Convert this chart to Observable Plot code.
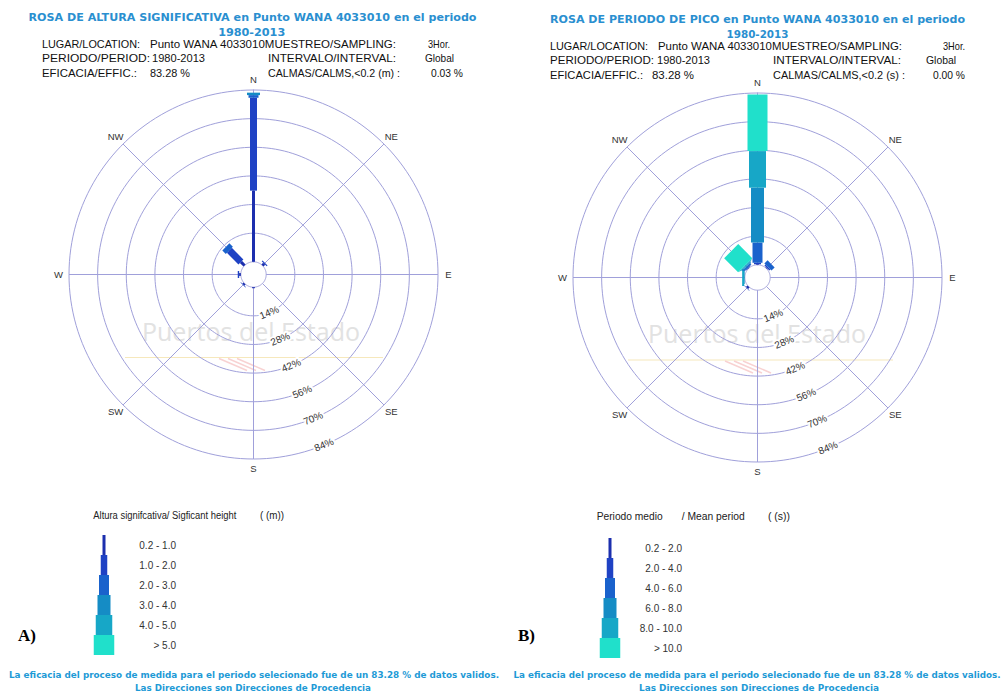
<!DOCTYPE html>
<html><head><meta charset="utf-8">
<script src="https://cdn.jsdelivr.net/npm/d3@7"></script>
<script src="https://cdn.jsdelivr.net/npm/@observablehq/plot@0.6"></script>
<style>
html,body{margin:0;padding:0;background:#fff;}
#page{position:relative;width:1003px;height:693px;overflow:hidden;background:#fff;}
</style></head><body><div id="page"></div>
<script>
// ---------- DATA ----------
const directions = ["N","NE","E","SE","S","SW","W","NW"];
const directionAngles = [0,45,90,135,180,225,270,315];
const ringTicks = [14,28,42,56,70,84];

const heightBands = ["0.2 - 1.0","1.0 - 2.0","2.0 - 3.0","3.0 - 4.0","4.0 - 5.0","> 5.0"];
const periodBands = ["0.2 - 2.0","2.0 - 4.0","4.0 - 6.0","6.0 - 8.0","8.0 - 10.0","> 10.0"];

// % of records per direction (N, NE, E, SE, S, SW, W, NW) for each class
const height_02_10 = [34.8, 1.2, 0, 0, 0.5, 0.8, 0.8, 2.5];
const height_10_20 = [45.4, 0.6, 0, 0, 0, 0.3, 0.7, 8.0];
const height_20_30 = [1.3, 0, 0, 0, 0, 0, 0, 2.4];
const height_30_40 = [1.2, 0, 0, 0, 0, 0, 0, 0];
const height_40_50 = [0, 0, 0, 0, 0, 0, 0, 0];
const height_gt50  = [0, 0, 0, 0, 0, 0, 0, 0];

const period_02_20  = [0.3, 0.3, 0, 0, 0, 1.0, 0, 0.2];
const period_20_40  = [0.7, 0.7, 0, 0, 0, 0.3, 0, 0.3];
const period_40_60  = [9.9, 2.2, 0, 0, 0, 0, 0, 0.8];
const period_60_80  = [26.8, 0, 0, 0, 0, 0, 0.3, 0.6];
const period_80_100 = [17.9, 0, 0, 0, 0, 0, 1.0, 0.4];
const period_gt100  = [27.7, 0, 0, 0, 0, 0, 0, 9.7];

const heightSeries = [height_02_10, height_10_20, height_20_30, height_30_40, height_40_50, height_gt50];
const periodSeries = [period_02_20, period_20_40, period_40_60, period_60_80, period_80_100, period_gt100];

// ---------- STYLE ----------
const bandColors = ["#1c2fae","#1f42c4","#1a62cc","#158cc5","#17a7c7","#20e0cb"];
const roseBarPx = [3, 7, 10, 13, 17, 20];
const legendBarPx = [3, 6.5, 10, 13, 16.5, 20.5];
const gridColor = "#a0a0da";
const R0 = 6.2;                // calm circle radius (in % units)
const rad = a => a * Math.PI / 180;

const page = document.getElementById("page");
function place(node, left, top, z) {
  node.style.position = "absolute";
  node.style.left = left + "px";
  node.style.top = top + "px";
  node.style.zIndex = z;
  page.appendChild(node);
}

function rose(series, bands) {
  const segs = [];
  directions.forEach((dir, i) => {
    let cum = 0;
    series.forEach((vals, j) => {
      const v = vals[i];
      if (v > 0) {
        segs.push({dir, a: directionAngles[i], band: bands[j], j, r1: R0 + cum, r2: R0 + cum + v});
        cum += v;
      }
    });
  });
  const rMax = R0 + ringTicks[ringTicks.length - 1];
  const labelR = 95.3;
  const ringAngle = 157.5;
  const dirs = directions.map((d, i) => ({d, a: directionAngles[i]}));
  // grid circles (calm circle + percentage rings), traced around the full turn
  const ringPts = [];
  [0, ...ringTicks].forEach(v => {
    for (let a = 0; a <= 360; a += 2) ringPts.push({ring: v, x: (R0 + v) * Math.sin(rad(a)), y: (R0 + v) * Math.cos(rad(a))});
  });
  return Plot.plot({
    width: 450, height: 450, margin: 0,
    x: {domain: [-110, 110], axis: null},
    y: {domain: [-110, 110], axis: null},
    color: {domain: bands, range: bandColors},
    style: {background: "transparent", overflow: "visible"},
    marks: [
      Plot.line(ringPts, {x: "x", y: "y", z: "ring", stroke: gridColor, strokeWidth: 1, curve: "linear"}),
      Plot.link(directionAngles, {
        x1: a => R0 * Math.sin(rad(a)), y1: a => R0 * Math.cos(rad(a)),
        x2: a => rMax * Math.sin(rad(a)), y2: a => rMax * Math.cos(rad(a)),
        stroke: gridColor, strokeWidth: 1
      }),
      Plot.link(segs, {
        x1: d => d.r1 * Math.sin(rad(d.a)), y1: d => d.r1 * Math.cos(rad(d.a)),
        x2: d => d.r2 * Math.sin(rad(d.a)), y2: d => d.r2 * Math.cos(rad(d.a)),
        stroke: "band", strokeWidth: d => roseBarPx[d.j], strokeLinecap: "butt"
      }),
      Plot.text(ringTicks, {
        x: d => (R0 + d) * Math.sin(rad(ringAngle)), y: d => (R0 + d) * Math.cos(rad(ringAngle)),
        text: d => d + "%", rotate: -22.5, fill: "#333", stroke: "white", strokeWidth: 4,
        paintOrder: "stroke", fontSize: 10, fontFamily: "Liberation Sans"
      }),
      Plot.text(dirs, {
        x: o => labelR * Math.sin(rad(o.a)), y: o => labelR * Math.cos(rad(o.a)),
        text: "d", fill: "#333", fontSize: 9.5, fontFamily: "Liberation Sans"
      })
    ]
  });
}

function legend(bands) {
  const rows = bands.map((b, j) => ({b, w: legendBarPx[j]}));
  return Plot.plot({
    width: 130, height: 124, margin: 0,
    x: {domain: [0, 130], axis: null},
    y: {domain: bands, axis: null, padding: 0},
    color: {domain: bands, range: bandColors},
    style: {background: "transparent", overflow: "visible"},
    marks: [
      Plot.barX(rows, {y: "b", x1: r => 20 - r.w / 2, x2: r => 20 + r.w / 2, fill: "b"}),
      Plot.text(rows, {y: "b", x: 91.5, text: "b", textAnchor: "end", fill: "#333", fontSize: 10, fontFamily: "Liberation Sans"})
    ]
  });
}

// ---------- WATERMARK LAYER ----------
const wm = d3.create("svg").attr("width", 1003).attr("height", 693);
[[251, 332, 125, 383, 357.5], [757, 334, 628, 893, 360]].forEach(([cx, cy, lx1, lx2, ly]) => {
  wm.append("line").attr("x1", lx1).attr("x2", lx2).attr("y1", ly).attr("y2", ly)
    .attr("stroke", "#f6e8bc").attr("stroke-width", 1.2);
  for (let k = 0; k < 3; k++) {
    wm.append("path").attr("d", `M${cx - 32 + k * 9},${ly + 1} q14,6 28,12`)
      .attr("fill", "none").attr("stroke", "#f8d2d2").attr("stroke-width", 1.5);
  }
  wm.append("text").attr("x", cx).attr("y", cy + 9).attr("text-anchor", "middle")
    .attr("font-family", "Open Sans").attr("font-size", 25).attr("fill", "#e2e2e2")
    .attr("textLength", 218).attr("lengthAdjust", "spacingAndGlyphs").text("Puertos del Estado");
});
place(wm.node(), 0, 0, 0);

// ---------- PLOTS ----------
place(rose(heightSeries, heightBands), 252.7 - 225, 274.3 - 225, 1);
place(rose(periodSeries, periodBands), 757.3 - 225, 276.7 - 225, 1);
place(legend(heightBands), 84.3, 533.3, 1);
place(legend(periodBands), 590, 536, 1);

// ---------- TEXT LAYER ----------
const tx = d3.create("svg").attr("width", 1003).attr("height", 693);
function t(x, y, s, o = {}) {
  const e = tx.append("text").attr("x", x).attr("y", y)
    .attr("font-family", o.family || "Liberation Sans")
    .attr("font-size", o.size || 11.5)
    .attr("font-weight", o.weight || "normal")
    .attr("fill", o.fill || "#111")
    .attr("text-anchor", o.anchor || "start")
    .text(s);
  if (o.len) e.attr("textLength", o.len).attr("lengthAdjust", "spacingAndGlyphs");
  return e;
}
const titleStyle = {family: "DejaVu Sans", weight: "bold", size: 11, fill: "#2a8fd0", anchor: "middle"};
// left header
t(252.5, 21, "ROSA DE ALTURA SIGNIFICATIVA en Punto WANA 4033010 en el periodo", {...titleStyle, len: 448});
t(251.7, 35.5, "1980-2013", {...titleStyle, len: 67});
t(42, 47.5, "LUGAR/LOCATION:", {len: 98});
t(150, 47.5, "Punto WANA 4033010MUESTREO/SAMPLING:", {len: 246});
t(428, 47.5, "3Hor.", {len: 22});
t(42, 62, "PERIODO/PERIOD:", {len: 108});
t(152, 62, "1980-2013", {len: 53});
t(268, 62, "INTERVALO/INTERVAL:", {len: 128});
t(425, 62, "Global", {len: 29});
t(42, 76.5, "EFICACIA/EFFIC.:", {len: 95});
t(150, 76.5, "83.28 %", {len: 40});
t(268, 76.5, "CALMAS/CALMS,<0.2 (m)  :", {len: 132});
t(431, 76.5, "0.03 %", {len: 32});
// right header
t(757.5, 23, "ROSA DE PERIODO DE PICO en Punto WANA 4033010 en el periodo", {...titleStyle, len: 415});
t(757.5, 37.5, "1980-2013", {...titleStyle, len: 62});
t(550, 49.5, "LUGAR/LOCATION:", {len: 98});
t(658, 49.5, "Punto WANA 4033010MUESTREO/SAMPLING:", {len: 244});
t(943, 49.5, "3Hor.", {len: 22});
t(550, 64, "PERIODO/PERIOD:", {len: 104});
t(657, 64, "1980-2013", {len: 53});
t(773, 64, "INTERVALO/INTERVAL:", {len: 128});
t(926, 64, "Global", {len: 30});
t(550, 78.5, "EFICACIA/EFFIC.:", {len: 93});
t(652, 78.5, "83.28 %", {len: 42});
t(773, 78.5, "CALMAS/CALMS,<0.2 (s)  :", {len: 132});
t(933, 78.5, "0.00 %", {len: 32});
// legend titles
const lt = {size: 10, fill: "#222"};
t(93.3, 519, "Altura signifcativa/ Sigficant height", {...lt, len: 143});
t(260, 519, "( (m))", {...lt, len: 24});
t(596.7, 519.5, "Periodo medio", {...lt, len: 66});
t(681.7, 519.5, "/ Mean period", {...lt, len: 63});
t(768, 519.5, "( (s))", {...lt, len: 22});
// panel letters
t(18, 641, "A)", {family: "Liberation Serif", weight: "bold", size: 17, fill: "#000"});
t(518, 641, "B)", {family: "Liberation Serif", weight: "bold", size: 17, fill: "#000"});
// footers
const ft = {family: "DejaVu Sans Condensed", weight: "bold", size: 9, fill: "#1e9ad6", anchor: "middle"};
t(254, 678, "La eficacia del proceso de medida para el periodo selecionado fue de un 83.28 % de datos validos.", {...ft, len: 490});
t(253, 690.5, "Las Direcciones son Direcciones de Procedencia", {...ft, len: 236});
t(757, 678, "La eficacia del proceso de medida para el periodo selecionado fue de un 83.28 % de datos validos.", {...ft, len: 487});
t(759, 691, "Las Direcciones son Direcciones de Procedencia", {...ft, len: 240});
place(tx.node(), 0, 0, 2);
</script></body></html>
